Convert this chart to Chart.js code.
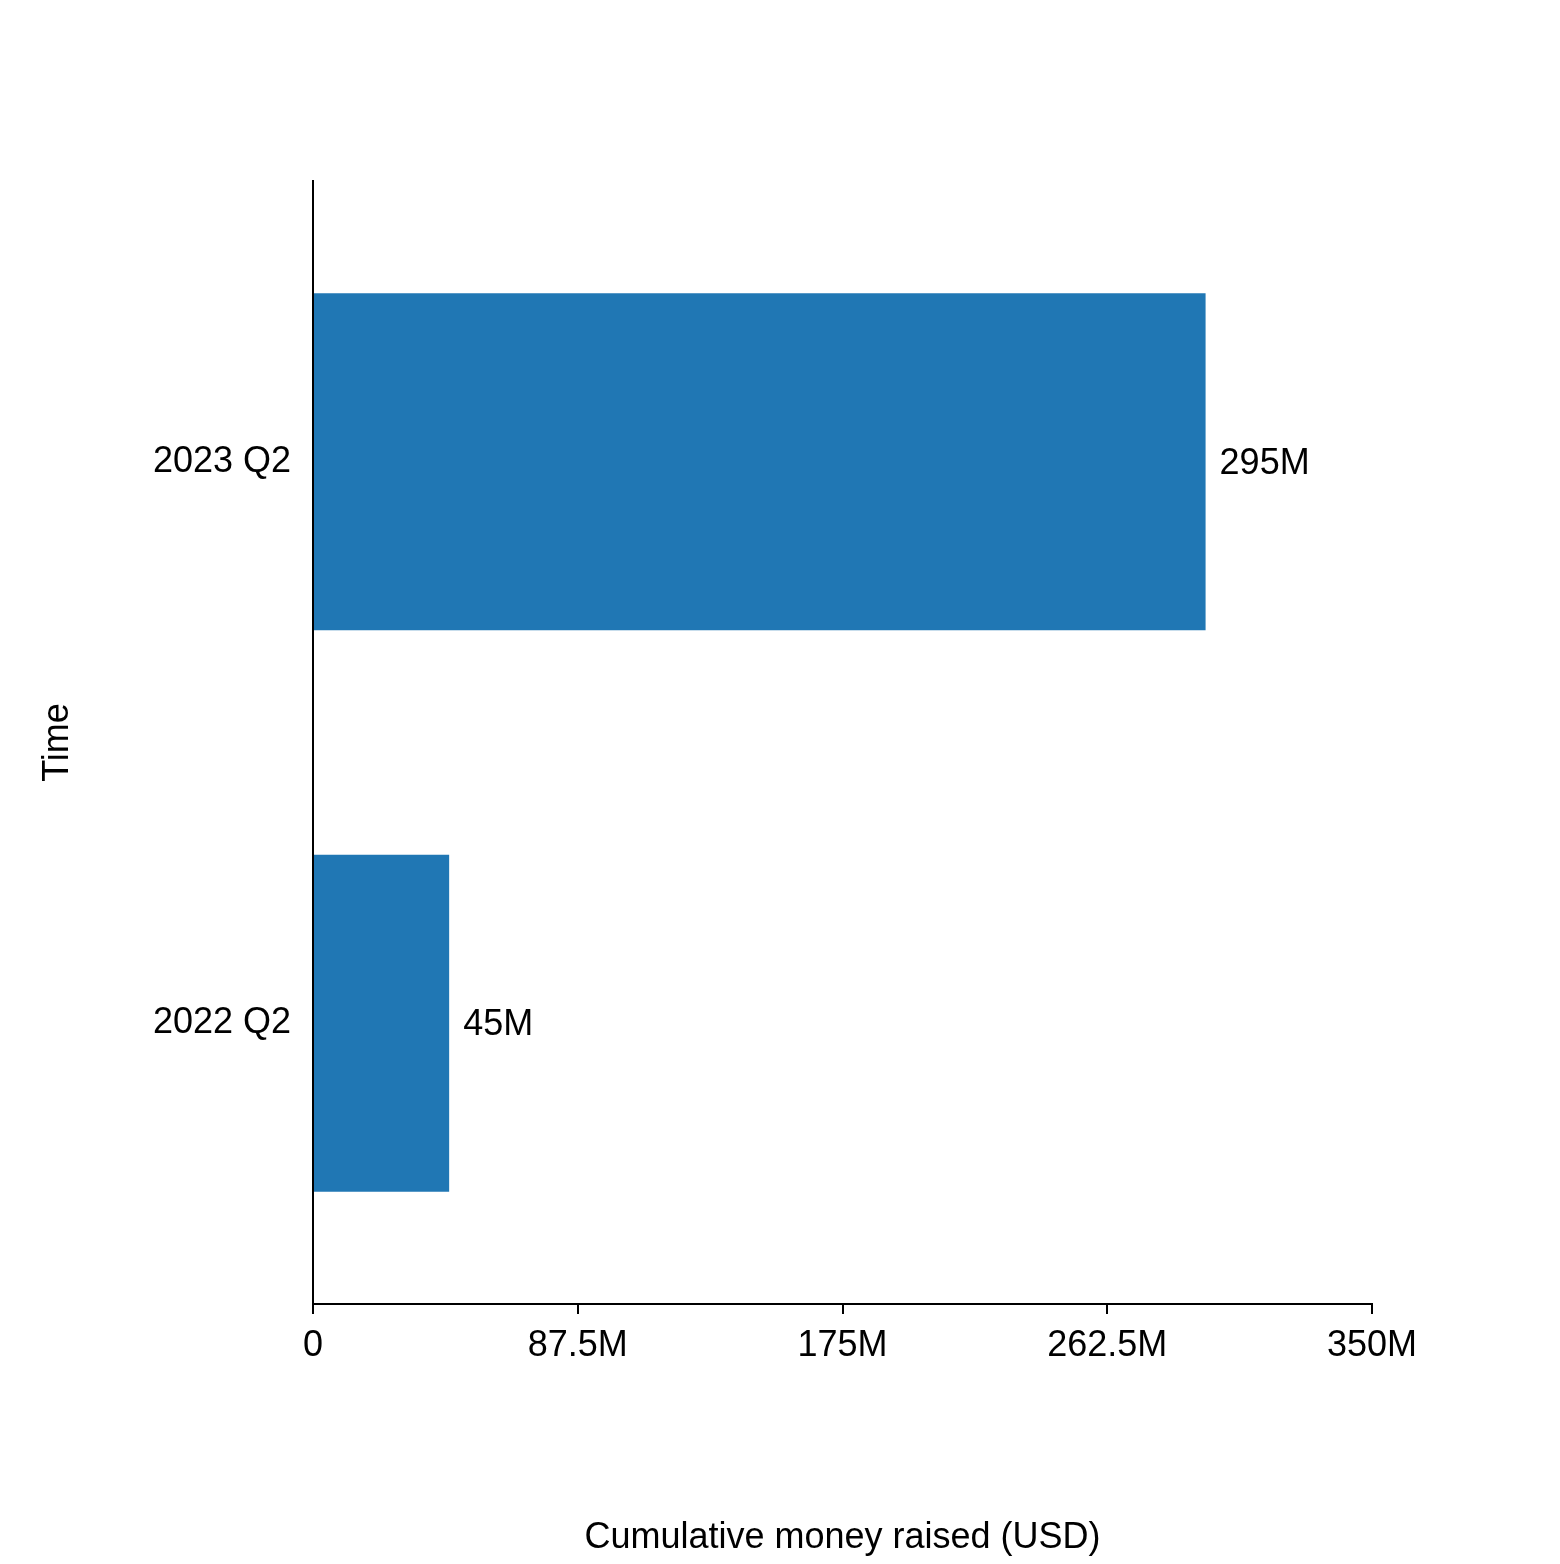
<!DOCTYPE html>
<html>
<head>
<meta charset="utf-8">
<script src="https://cdn.jsdelivr.net/npm/chart.js@4"></script>
<style>
    html, body { margin: 0; padding: 0; background: #ffffff; }
    #wrap { width: 1560px; height: 1564px; }
</style>
</head>
<body>
<div id="wrap"><canvas id="chartCanvas"></canvas></div>
<script>
// Chart data
const categories = ["2023 Q2", "2022 Q2"];
const moneyRaised = [295000000, 45000000];
const valueLabels = ["295M", "45M"];

const FONT = "'Liberation Sans', Arial, sans-serif";

// Draws the value text at the end of each bar
const barLabelPlugin = {
    id: "barLabels",
    afterDatasetsDraw(chart) {
        const ctx = chart.ctx;
        const meta = chart.getDatasetMeta(0);
        ctx.save();
        ctx.font = "36px " + FONT;
        ctx.fillStyle = "#000000";
        ctx.textAlign = "left";
        ctx.textBaseline = "middle";
        meta.data.forEach((bar, i) => {
            ctx.fillText(valueLabels[i], bar.x + 14, bar.y + 2);
        });
        ctx.restore();
    }
};

const ctx = document.getElementById("chartCanvas").getContext("2d");
const chart = new Chart(ctx, {
    type: 'bar',
    data: {
        labels: categories,
        datasets: [{
            data: moneyRaised,
            backgroundColor: '#2077b4',
            barPercentage: 0.6,
            categoryPercentage: 1.0
        }]
    },
    plugins: [barLabelPlugin],
    options: {
        indexAxis: 'y',
        animation: false,
        responsive: true,
        maintainAspectRatio: false,
        layout: {
            padding: { top: 181, right: 188, left: 0, bottom: 0 }
        },
        plugins: {
            legend: { display: false },
            tooltip: { enabled: false }
        },
        scales: {
            x: {
                min: 0,
                max: 350000000,
                afterFit: scale => { scale.height = 260; },
                grid: {
                    display: true,
                    drawOnChartArea: false,
                    drawTicks: true,
                    tickLength: 10,
                    color: '#000000',
                    lineWidth: 2
                },
                border: { display: true, color: '#000000', width: 2 },
                ticks: {
                    stepSize: 100000000,
                    padding: 10,
                    color: '#000000',
                    font: { size: 36, family: FONT },
                    callback: v => v === 0 ? "0" : (v / 1000000) + "M"
                },
                title: {
                    display: true,
                    text: "Cumulative money raised (USD)",
                    color: '#000000',
                    font: { size: 36, family: FONT },
                    padding: { top: 48 }
                }
            },
            y: {
                afterFit: scale => { scale.width = 313; },
                grid: { display: false, drawTicks: false },
                border: { display: true, color: '#000000', width: 2 },
                ticks: {
                    padding: 22,
                    color: '#000000',
                    font: { size: 36, family: FONT }
                },
                title: {
                    display: true,
                    text: "Time",
                    color: '#000000',
                    font: { size: 36, family: FONT },
                    padding: { top: 36 }
                }
            }
        }
    }
});
</script>
</body>
</html>
